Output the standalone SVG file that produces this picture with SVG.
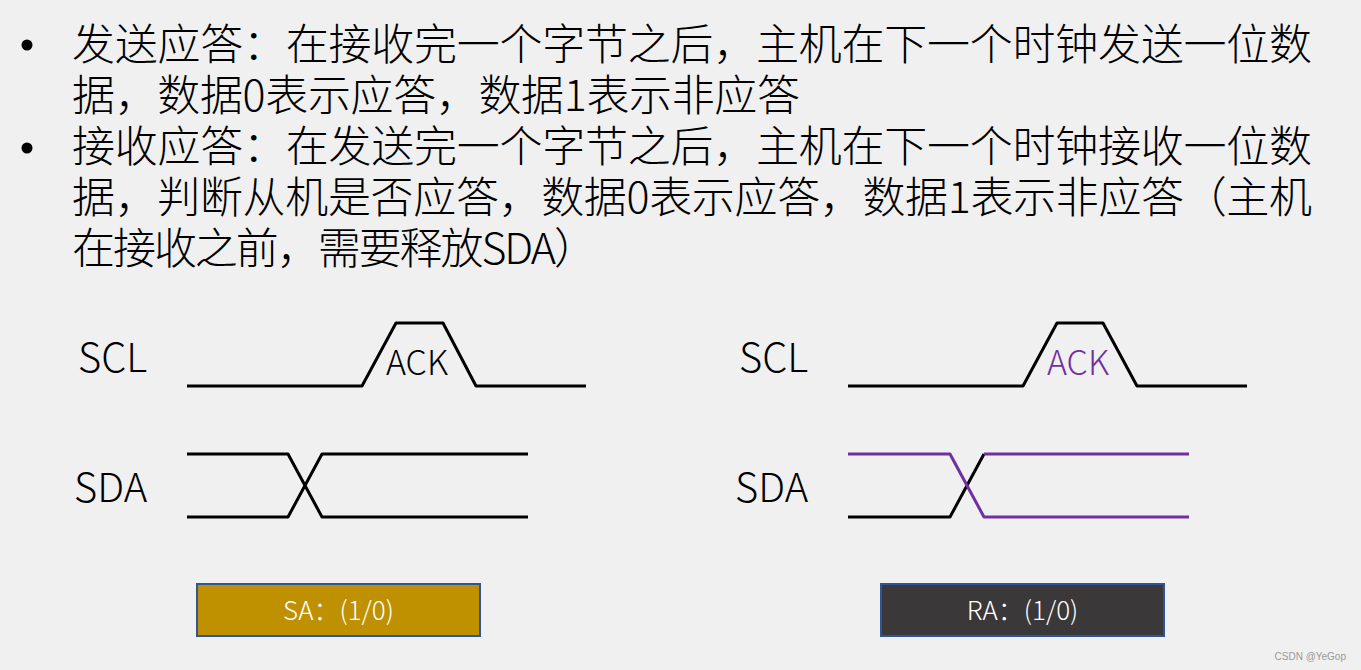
<svg xmlns="http://www.w3.org/2000/svg" width="1361" height="670" viewBox="0 0 1361 670">
<style>
.t{font-family:"Noto Sans CJK SC","Liberation Sans",sans-serif;fill:#000;font-weight:300}
.body{font-size:43px}
.lab{font-size:40px}
.ack{font-size:34px}
.box{font-size:26px;fill:#fff}
.w{fill:none;stroke:#000;stroke-width:3;stroke-linejoin:round}
.p{stroke:#7030a0}
</style>
<rect width="1361" height="670" fill="#f0f0f0"/>
<g id="text">
<circle cx="27" cy="45" r="5.5" fill="#000"/>
<circle cx="27" cy="148" r="5.5" fill="#000"/>
<text class="t body" x="72" y="60" textLength="1240">发送应答：在接收完一个字节之后，主机在下一个时钟发送一位数</text>
<text class="t body" x="72" y="111" textLength="728">据，数据0表示应答，数据1表示非应答</text>
<text class="t body" x="72" y="162" textLength="1240">接收应答：在发送完一个字节之后，主机在下一个时钟接收一位数</text>
<text class="t body" x="72" y="213" textLength="1240">据，判断从机是否应答，数据0表示应答，数据1表示非应答（主机</text>
<text class="t body" x="72" y="264" textLength="525">在接收之前，需要释放SDA）</text>
</g>
<g id="left-labels">
<text class="t lab" x="78" y="372">SCL</text>
<text class="t lab" x="74" y="502">SDA</text>
<text class="t ack" x="386" y="375">ACK</text>
</g>
<g id="right-labels">
<text class="t lab" x="739" y="372">SCL</text>
<text class="t lab" x="735" y="502">SDA</text>
<text class="t ack" x="1047" y="375" style="fill:#7030a0">ACK</text>
</g>
<g id="connectors">
<polyline class="w" points="187,386 362,386 396,323 443,323 476,386 586,386"/>
<polyline class="w" points="187,454 288,454 322,517 528,517"/>
<polyline class="w" points="187,517 288,517 322,454 528,454"/>
<polyline class="w" points="848,386 1023,386 1057,323 1103,323 1137,386 1247,386"/>
<polyline class="w" points="848,517 950,517 984,454"/>
<polyline class="w p" points="848,454 950,454 984,517 1189,517"/>
<polyline class="w p" points="984,454 1189,454"/>
</g>
<g id="sa">
<rect x="197" y="584" width="283" height="52" fill="#bf9000" stroke="#2f5597" stroke-width="2"/>
<text class="t box" x="338.5" y="620" text-anchor="middle">SA：(1/0)</text>
</g>
<g id="ra">
<rect x="881" y="584" width="283" height="52" fill="#3a3838" stroke="#2f5597" stroke-width="2"/>
<text class="t box" x="1022.5" y="620" text-anchor="middle">RA：(1/0)</text>
</g>
<g id="watermark">
<text x="1346" y="660" text-anchor="end" style="font-family:'Liberation Sans',sans-serif;font-size:10px;fill:#999">CSDN @YeGop</text>
</g>
</svg>
